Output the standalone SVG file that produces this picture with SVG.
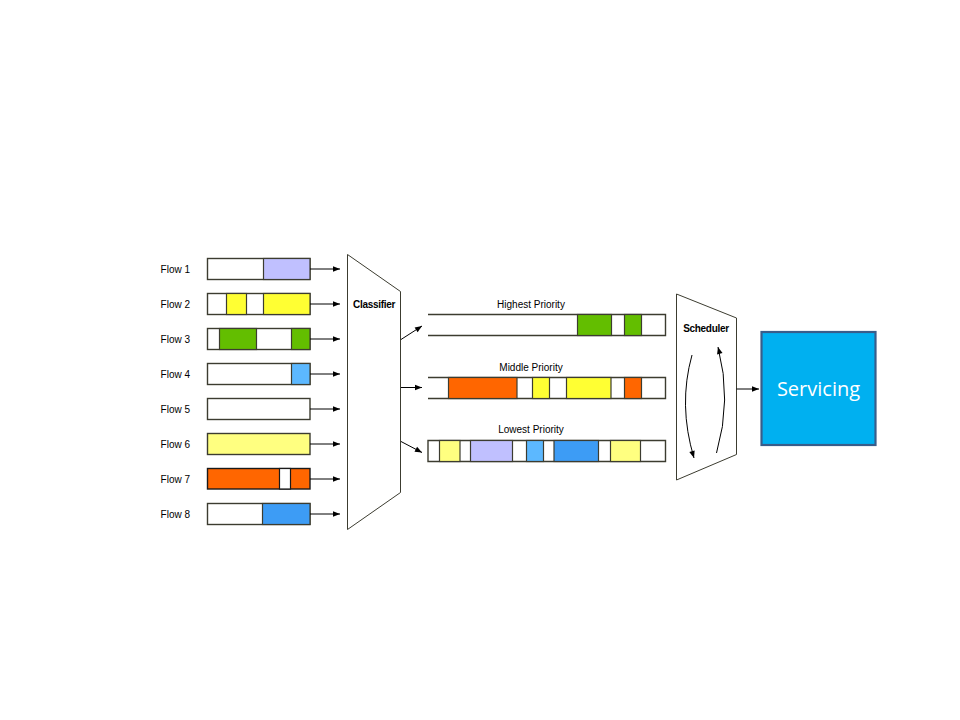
<svg xmlns="http://www.w3.org/2000/svg" width="960" height="720" viewBox="0 0 960 720">
  <defs>
    <marker id="arr" viewBox="0 0 10 10" refX="10" refY="5" markerWidth="11" markerHeight="7" markerUnits="userSpaceOnUse" orient="auto">
      <path d="M0,1 L10,5 L0,9 Z" fill="#000"/>
    </marker>
    <style>
      .lbl { font-family: "Liberation Sans", Arial, sans-serif; font-size: 10px; fill: #000; }
      .bold { font-family: "Liberation Sans", Arial, sans-serif; font-size: 10px; font-weight: bold; fill: #000; letter-spacing: -0.3px; }
      .box { stroke: #3c3c30; stroke-width: 1.4; }
      .seg { stroke: #3c3c30; stroke-width: 1.2; }
      .conn { stroke: #000; stroke-width: 1; fill: none; marker-end: url(#arr); }
      .shape { fill: #fff; stroke: #3c3c30; stroke-width: 1; }
      .q { stroke: #3c3c30; stroke-width: 1.4; fill: none; }
    </style>
  </defs>
  <rect width="960" height="720" fill="#fff"/>

  <!-- input flows -->
  <g id="flow1">
    <text class="lbl" x="190" y="273" text-anchor="end">Flow 1</text>
    <rect class="box" x="207.5" y="258.5" width="102.5" height="21" fill="#fff"/>
    <rect class="seg" x="263.5" y="258.5" width="46.5" height="21" fill="#c0c0ff"/>
  </g>
  <g id="flow2">
    <text class="lbl" x="190" y="308" text-anchor="end">Flow 2</text>
    <rect class="box" x="207.5" y="293.5" width="102.5" height="21" fill="#fff"/>
    <rect class="seg" x="226.5" y="293.5" width="20" height="21" fill="#ffff33"/>
    <rect class="seg" x="263.5" y="293.5" width="46.5" height="21" fill="#ffff33"/>
  </g>
  <g id="flow3">
    <text class="lbl" x="190" y="343" text-anchor="end">Flow 3</text>
    <rect class="box" x="207.5" y="328.5" width="102.5" height="21" fill="#fff"/>
    <rect class="seg" x="219.5" y="328.5" width="37" height="21" fill="#63be00"/>
    <rect class="seg" x="291.5" y="328.5" width="18.5" height="21" fill="#63be00"/>
  </g>
  <g id="flow4">
    <text class="lbl" x="190" y="378" text-anchor="end">Flow 4</text>
    <rect class="box" x="207.5" y="363.5" width="102.5" height="21" fill="#fff"/>
    <rect class="seg" x="291.5" y="363.5" width="18.5" height="21" fill="#5cb8ff"/>
  </g>
  <g id="flow5">
    <text class="lbl" x="190" y="413" text-anchor="end">Flow 5</text>
    <rect class="box" x="207.5" y="398.5" width="102.5" height="21" fill="#fff"/>
  </g>
  <g id="flow6">
    <text class="lbl" x="190" y="448" text-anchor="end">Flow 6</text>
    <rect class="box" x="207.5" y="433.5" width="102.5" height="21" fill="#ffff80"/>
  </g>
  <g id="flow7">
    <text class="lbl" x="190" y="483" text-anchor="end">Flow 7</text>
    <rect x="207.5" y="468.5" width="102.5" height="20.5" fill="#ff6600" stroke="#1a1a1a" stroke-width="1.4"/>
    <rect x="279.5" y="468.5" width="11" height="20.5" fill="#fff" stroke="#1a1a1a" stroke-width="1.2"/>
  </g>
  <g id="flow8">
    <text class="lbl" x="190" y="518" text-anchor="end">Flow 8</text>
    <rect class="box" x="207.5" y="503.5" width="102.5" height="21" fill="#fff"/>
    <rect class="seg" x="262.5" y="503.5" width="47.5" height="21" fill="#3d9cf5"/>
  </g>

  <!-- classifier -->
  <g id="classifier">
    <path class="shape" d="M347.5,254.5 L400.5,291.5 L400.5,492.5 L347.5,529.5 Z"/>
    <text class="bold" x="374" y="308" text-anchor="middle">Classifier</text>
  </g>

  <!-- priority queues -->
  <g id="queue-high">
    <text class="lbl" x="531" y="308" text-anchor="middle">Highest Priority</text>
    <path class="q" d="M428,314.5 L665.5,314.5 L665.5,335.5 L428,335.5"/>
    <rect class="seg" x="577.5" y="314.5" width="34" height="21" fill="#63be00"/>
    <rect class="seg" x="624.5" y="314.5" width="17" height="21" fill="#63be00"/>
  </g>
  <g id="queue-mid">
    <text class="lbl" x="531" y="371" text-anchor="middle">Middle Priority</text>
    <path class="q" d="M428,377.5 L665.5,377.5 L665.5,398.5 L428,398.5"/>
    <rect class="seg" x="448.5" y="377.5" width="68.5" height="21" fill="#ff6600"/>
    <rect class="seg" x="532.5" y="377.5" width="17" height="21" fill="#ffff33"/>
    <rect class="seg" x="566.5" y="377.5" width="44.5" height="21" fill="#ffff33"/>
    <rect class="seg" x="624.5" y="377.5" width="17" height="21" fill="#ff6600"/>
  </g>
  <g id="queue-low">
    <text class="lbl" x="531" y="433" text-anchor="middle">Lowest Priority</text>
    <path class="q" d="M428,440.5 L665.5,440.5 L665.5,461.5 L428,461.5 Z"/>
    <rect class="seg" x="439.5" y="440.5" width="20.5" height="21" fill="#ffff80"/>
    <rect class="seg" x="470.5" y="440.5" width="42" height="21" fill="#c0c0ff"/>
    <rect class="seg" x="526.5" y="440.5" width="17" height="21" fill="#5cb8ff"/>
    <rect class="seg" x="554" y="440.5" width="44.5" height="21" fill="#3d9cf5"/>
    <rect class="seg" x="610.5" y="440.5" width="30" height="21" fill="#ffff80"/>
  </g>

  <!-- scheduler -->
  <g id="scheduler">
    <path class="shape" d="M676.5,294 L736.5,318 L736.5,454.5 L676.5,480 Z"/>
    <text class="bold" x="706" y="332" text-anchor="middle">Scheduler</text>
    <path class="conn" d="M692,355 Q678,405 694,458"/>
    <path class="conn" d="M716.5,453 Q732,400 718,347"/>
  </g>

  <!-- output -->
  <g id="servicing">
    <rect x="761.5" y="332" width="114" height="113" fill="#00b0f0" stroke="#385d8a" stroke-width="2.2"/>
    <text x="818.5" y="396" text-anchor="middle" font-family="'Open Sans', Calibri, sans-serif" font-size="20" fill="#fff">Servicing</text>
  </g>

  <!-- connectors -->
  <g id="connectors">
    <line class="conn" x1="310" y1="269" x2="340" y2="269"/>
    <line class="conn" x1="310" y1="304" x2="340" y2="304"/>
    <line class="conn" x1="310" y1="339" x2="340" y2="339"/>
    <line class="conn" x1="310" y1="374" x2="340" y2="374"/>
    <line class="conn" x1="310" y1="409" x2="340" y2="409"/>
    <line class="conn" x1="310" y1="444" x2="340" y2="444"/>
    <line class="conn" x1="310" y1="479" x2="340" y2="479"/>
    <line class="conn" x1="310" y1="514" x2="340" y2="514"/>
    <line class="conn" x1="401" y1="339.5" x2="422" y2="326"/>
    <line class="conn" x1="401" y1="387.5" x2="422" y2="387.5"/>
    <line class="conn" x1="401" y1="441.5" x2="422" y2="452.5"/>
    <line class="conn" x1="736.5" y1="389" x2="759" y2="389"/>
  </g>
</svg>
